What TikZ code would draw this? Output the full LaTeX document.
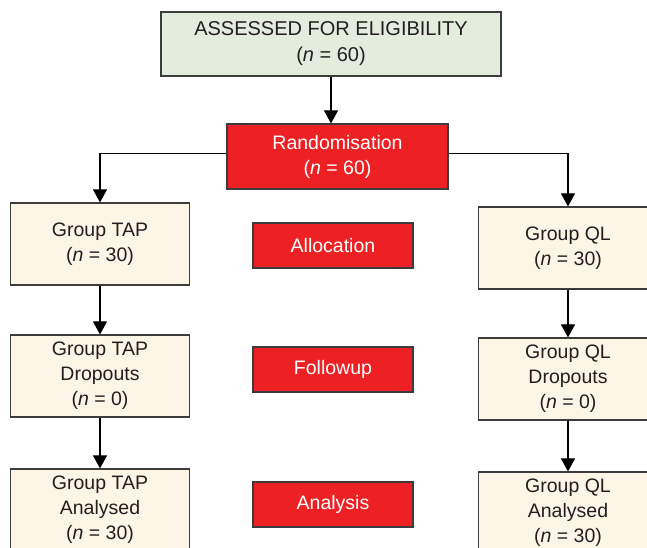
\documentclass[tikz,border=0pt]{standalone}
\usepackage{fontspec}
\setmainfont{Liberation Sans}
\usetikzlibrary{arrows.meta}
\definecolor{boxgreen}{RGB}{228,237,221}
\definecolor{boxcream}{RGB}{253,246,231}
\definecolor{boxred}{RGB}{237,33,36}
\definecolor{edgegray}{RGB}{60,60,60}
\definecolor{txtdark}{RGB}{35,31,32}
\tikzset{
  base/.style={draw=edgegray, line width=1.2pt, inner sep=0pt, align=center,
    font=\fontsize{19.5pt}{25pt}\selectfont, text=txtdark},
  greenbox/.style={base, font=\fontsize{20pt}{26pt}\selectfont, fill=boxgreen, minimum width=340pt, minimum height=64pt},
  redbig/.style={base, fill=boxred, text=white, minimum width=221pt, minimum height=65pt},
  groupbox/.style={base, fill=boxcream, minimum width=179pt, minimum height=82pt},
  redlabel/.style={base, fill=boxred, text=white, minimum width=160pt, minimum height=45pt},
  conn/.style={draw=black, line width=1.1pt, -{Triangle[width=14pt,length=13pt]}}
}
\begin{document}
\begin{tikzpicture}[x=1pt,y=-1pt]
\clip (0,0) rectangle (647,548);
\fill[white] (0,0) rectangle (647,548);
\node[greenbox] (top) at (331,44) {ASSESSED FOR ELIGIBILITY\\(\textit{n} = 60)};
\node[redbig] (rand) at (337.5,156.5) {Randomisation\\(\textit{n} = 60)};
\node[groupbox] (tap1) at (100,244) {Group TAP\\(\textit{n} = 30)};
\node[groupbox] (tap2) at (100,376) {Group TAP\\Dropouts\\(\textit{n} = 0)};
\node[groupbox] (tap3) at (100,510) {Group TAP\\Analysed\\(\textit{n} = 30)};
\node[groupbox] (ql1) at (568,248) {Group QL\\(\textit{n} = 30)};
\node[groupbox] (ql2) at (568,379) {Group QL\\Dropouts\\(\textit{n} = 0)};
\node[groupbox] (ql3) at (568,513) {Group QL\\Analysed\\(\textit{n} = 30)};
\node[redlabel] (alloc) at (333,245.5) {Allocation};
\node[redlabel] (follow) at (333,369.5) {Followup};
\node[redlabel] (anal) at (333,504.5) {Analysis};
\draw[conn] (top.south) -- (top.south |- rand.north);
\draw[conn] ([yshift=3pt]rand.west) -| (tap1.north);
\draw[conn] ([yshift=3pt]rand.east) -| (ql1.north);
\draw[conn] (tap1.south) -- (tap2.north);
\draw[conn] (tap2.south) -- (tap3.north);
\draw[conn] (ql1.south) -- (ql2.north);
\draw[conn] (ql2.south) -- (ql3.north);
\end{tikzpicture}
\end{document}
